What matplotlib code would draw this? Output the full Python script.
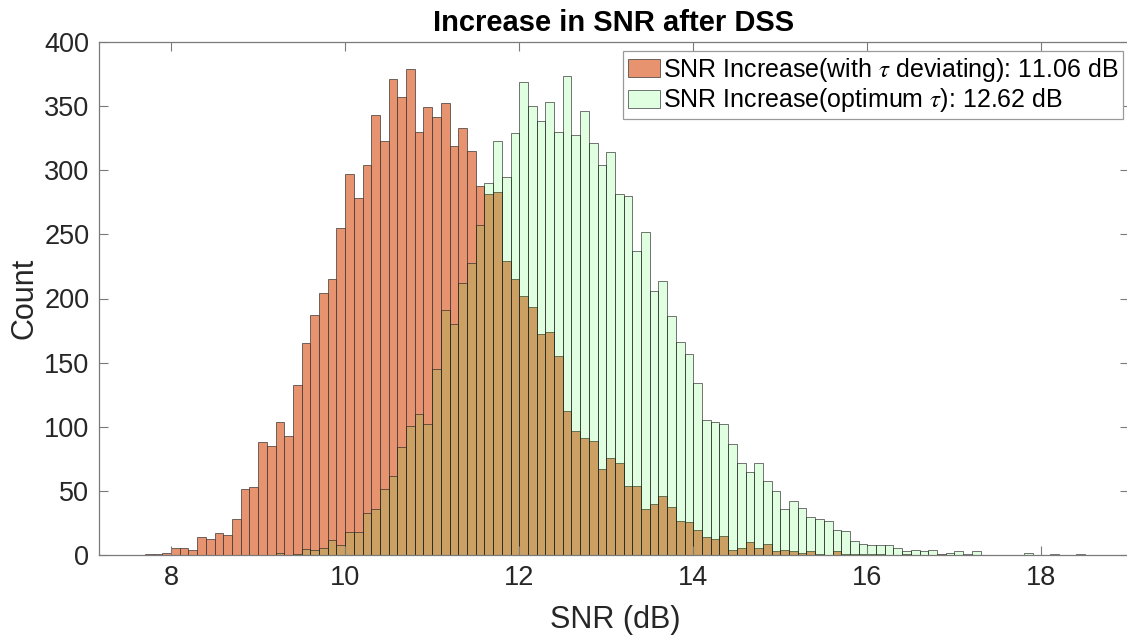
import numpy as np
import matplotlib
matplotlib.use("Agg")
import matplotlib.pyplot as plt

plt.rcParams['font.family'] = ['Liberation Sans', 'DejaVu Sans']
plt.rcParams['mathtext.fontset'] = 'stix'

# ---------------- data ----------------
bin_width = 0.1

dev_start = 7.7   # left edge of first bin, "with tau deviating"
dev_counts = [1, 1, 2, 6, 6, 4, 14, 13, 17, 16,
              28, 52, 53, 88, 85, 104, 93, 133, 165, 187,
              204, 215, 255, 297, 278, 304, 343, 323, 371, 357,
              379, 330, 349, 341, 352, 319, 333, 315, 288, 281,
              283, 229, 215, 202, 193, 172, 174, 155, 112, 97,
              91, 89, 67, 76, 72, 54, 54, 36, 40, 46,
              38, 27, 26, 20, 14, 13, 15, 4, 6, 10,
              6, 9, 3, 4, 3, 2, 3, 1, 0, 3,
              1, 1, 1, 1, 1, 0, 0, 1, 0, 0,
              0, 1]

opt_start = 9.2   # left edge of first bin, "optimum tau"
opt_counts = [2, 0, 1, 5, 4, 6, 12, 8, 18, 18,
              33, 36, 52, 62, 84, 101, 110, 102, 145, 191,
              180, 212, 228, 257, 290, 323, 295, 329, 369, 350,
              338, 353, 330, 373, 327, 346, 321, 304, 314, 281,
              280, 237, 252, 206, 214, 186, 166, 157, 134, 105,
              104, 102, 87, 72, 65, 72, 58, 50, 36, 42,
              37, 30, 28, 27, 20, 19, 11, 9, 8, 8,
              8, 6, 3, 4, 3, 4, 0, 2, 3, 1,
              3, 0, 0, 0, 0, 0, 2, 0, 0, 1,
              0, 0, 1]

dev_label = r'SNR Increase(with $\tau$ deviating): 11.06 dB'
opt_label = r'SNR Increase(optimum $\tau$): 12.62 dB'

title = 'Increase in SNR after DSS'
xlabel = 'SNR (dB)'
ylabel = 'Count'
xticks = [8, 10, 12, 14, 16, 18]
yticks = [0, 50, 100, 150, 200, 250, 300, 350, 400]

# ---------------- figure ----------------
W, H = 1127, 640
fig = plt.figure(figsize=(W / 100, H / 100), dpi=100)
left_px, right_px, top_px, bot_px = 99, 1128.5, 41.7, 555.3
ax = fig.add_axes([left_px / W, 1 - bot_px / H,
                   (right_px - left_px) / W, (bot_px - top_px) / H])

edge = (0.15, 0.15, 0.15, 0.75)

dev_edges = dev_start + bin_width * np.arange(len(dev_counts))
opt_edges = opt_start + bin_width * np.arange(len(opt_counts))

ax.bar(dev_edges, dev_counts, width=bin_width, align='edge',
       facecolor=(0.91, 0.575, 0.44, 1.0), edgecolor=edge,
       linewidth=0.6, label=dev_label)
ax.bar(opt_edges, opt_counts, width=bin_width, align='edge',
       facecolor=(0.0, 1.0, 0.0, 0.12), edgecolor=edge,
       linewidth=0.6, label=opt_label)

ax.set_xlim(7.172, 19.0)
ax.set_ylim(0, 400)
ax.set_xticks(xticks)
ax.set_yticks(yticks)

axis_col = '#7a7a7a'
for s in ax.spines.values():
    s.set_color(axis_col)
    s.set_linewidth(0.9)
ax.tick_params(direction='in', length=6.5, width=0.8, color=axis_col,
               top=True, right=True, labelsize=19.5, labelcolor='#262626')
ax.tick_params(axis='x', pad=7)
ax.tick_params(axis='y', pad=7)

ax.set_title(title, fontsize=21, fontweight='bold', pad=8)
ax.set_xlabel(xlabel, fontsize=22, color='#262626')
ax.xaxis.set_label_coords(0.501, -0.097)
ax.set_ylabel(ylabel, fontsize=22, color='#262626')
ax.yaxis.set_label_coords(-0.058, 0.5)

leg = ax.legend(loc='upper right', bbox_to_anchor=(0.995, 0.982),
                borderaxespad=0, fontsize=18, frameon=True, fancybox=False,
                framealpha=1, edgecolor='#9a9a9a', handlelength=1.3,
                handleheight=0.75, handletextpad=0.1, borderpad=0.2,
                labelspacing=0.1)
leg.get_frame().set_linewidth(0.9)

fig.savefig('out.png', dpi=100, facecolor='white')
